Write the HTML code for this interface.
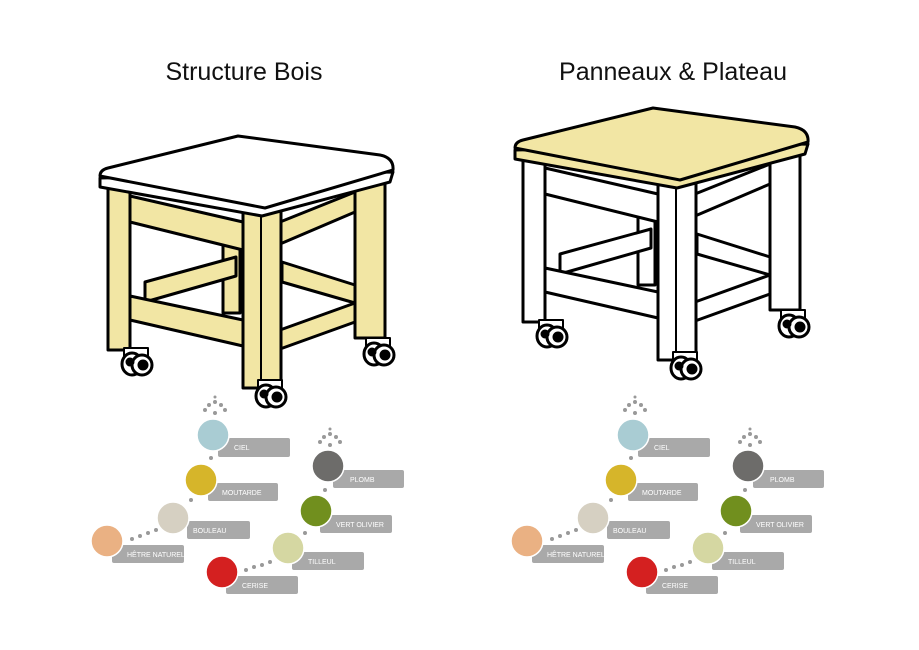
<!DOCTYPE html>
<html><head><meta charset="utf-8"><style>
body{margin:0;background:#fff;}
svg{display:block;font-family:"Liberation Sans",sans-serif;}
.t{font-size:25px;fill:#111;text-anchor:middle;}
.l{font-size:7px;fill:#fff;}
</style></head><body>
<svg width="919" height="650" viewBox="0 0 919 650">
<defs>
<g id="wheel">
 <rect x="-14" y="-12" width="24" height="8" fill="#fff" stroke="#000" stroke-width="2"/>
 <ellipse cx="-6" cy="4" rx="10" ry="11" fill="#fff" stroke="#000" stroke-width="3"/>
 <circle cx="4" cy="5" r="10" fill="#fff" stroke="#000" stroke-width="3"/>
 <circle cx="5" cy="5" r="4" fill="#000"/>
 <circle cx="-8" cy="2" r="3" fill="#000"/>
</g>
<g id="stool" stroke="#000" stroke-width="3" stroke-linejoin="round">
 <rect x="223" y="225" width="17" height="88" fill="var(--w)"/>
 <polygon points="145,282 236,257 236,276 145,302" fill="var(--w)"/>
 <polygon points="282,262 355,285 355,303 282,282" fill="var(--w)"/>
 <rect x="108" y="186" width="22" height="164" fill="var(--w)"/>
 <rect x="355" y="180" width="30" height="158" fill="var(--w)"/>
 <polygon points="130,196 243,222 243,250 130,222" fill="var(--w)"/>
 <polygon points="280,222 355,192 355,212 280,244" fill="var(--w)"/>
 <polygon points="130,296 243,320 243,346 130,320" fill="var(--w)"/>
 <polygon points="280,330 355,303 355,322 280,349" fill="var(--w)"/>
 <rect x="243" y="210" width="38" height="178" fill="var(--w)"/>
 <line x1="261" y1="214" x2="261" y2="386" stroke-width="2"/>
 <path d="M100,178 L100,187 L262,216 L390,182 L393,172 Z" fill="var(--s)"/>
 <path d="M100,176 Q100,170 108,168 L238,136 L380,155 Q394,158 393,170 L265,208 Z" fill="var(--s)"/>
 <use href="#wheel" x="138" y="360"/>
 <use href="#wheel" x="272" y="392"/>
 <use href="#wheel" x="380" y="350"/>
</g>
<g id="sw">
 <g fill="#999">
  <circle cx="215" cy="413" r="2"/><circle cx="209" cy="405" r="2"/><circle cx="215" cy="402" r="2"/><circle cx="221" cy="405" r="2"/><circle cx="205" cy="410" r="2"/><circle cx="225" cy="410" r="2"/><circle cx="215" cy="397" r="1.5"/>
  <circle cx="330" cy="445" r="2"/><circle cx="324" cy="437" r="2"/><circle cx="330" cy="434" r="2"/><circle cx="336" cy="437" r="2"/><circle cx="320" cy="442" r="2"/><circle cx="340" cy="442" r="2"/><circle cx="330" cy="429" r="1.5"/>
  <circle cx="211" cy="458" r="2"/><circle cx="191" cy="500" r="2"/>
  <circle cx="132" cy="539" r="2"/><circle cx="140" cy="536" r="2"/><circle cx="148" cy="533" r="2"/><circle cx="156" cy="530" r="2"/>
  <circle cx="325" cy="490" r="2"/><circle cx="305" cy="533" r="2"/>
  <circle cx="246" cy="570" r="2"/><circle cx="254" cy="567" r="2"/><circle cx="262" cy="565" r="2"/><circle cx="270" cy="562" r="2"/>
 </g>
 <g fill="#a9a9a9">
  <rect x="218" y="438" width="72" height="19" rx="2"/>
  <rect x="208" y="483" width="70" height="18" rx="2"/>
  <rect x="187" y="521" width="63" height="18" rx="2"/>
  <rect x="112" y="545" width="72" height="18" rx="2"/>
  <rect x="333" y="470" width="71" height="18" rx="2"/>
  <rect x="320" y="515" width="72" height="18" rx="2"/>
  <rect x="292" y="552" width="72" height="18" rx="2"/>
  <rect x="226" y="576" width="72" height="18" rx="2"/>
 </g>
 <g stroke="#fff" stroke-width="1.5">
  <circle cx="213" cy="435" r="16" fill="#a9ccd3"/>
  <circle cx="201" cy="480" r="16" fill="#d6b52a"/>
  <circle cx="173" cy="518" r="16" fill="#d6d0c2"/>
  <circle cx="107" cy="541" r="16" fill="#eab183"/>
  <circle cx="328" cy="466" r="16" fill="#6d6c6a"/>
  <circle cx="316" cy="511" r="16" fill="#718f1e"/>
  <circle cx="288" cy="548" r="16" fill="#d5d7a2"/>
  <circle cx="222" cy="572" r="16" fill="#d42020"/>
 </g>
 <text class="l" x="234" y="450">CIEL</text>
 <text class="l" x="222" y="495">MOUTARDE</text>
 <text class="l" x="193" y="533">BOULEAU</text>
 <text class="l" x="127" y="557">HÊTRE NATUREL</text>
 <text class="l" x="350" y="482">PLOMB</text>
 <text class="l" x="336" y="527">VERT OLIVIER</text>
 <text class="l" x="308" y="564">TILLEUL</text>
 <text class="l" x="242" y="588">CERISE</text>
</g>
</defs>
<text class="t" x="244" y="80">Structure Bois</text>
<text class="t" x="673" y="80">Panneaux &amp; Plateau</text>
<use href="#stool" style="--w:#f2e6a4;--s:#fff"/>
<use href="#stool" x="415" y="-28" style="--w:#fff;--s:#f2e6a4"/>
<use href="#sw"/>
<use href="#sw" x="420" y="0"/>
</svg>
</body></html>
